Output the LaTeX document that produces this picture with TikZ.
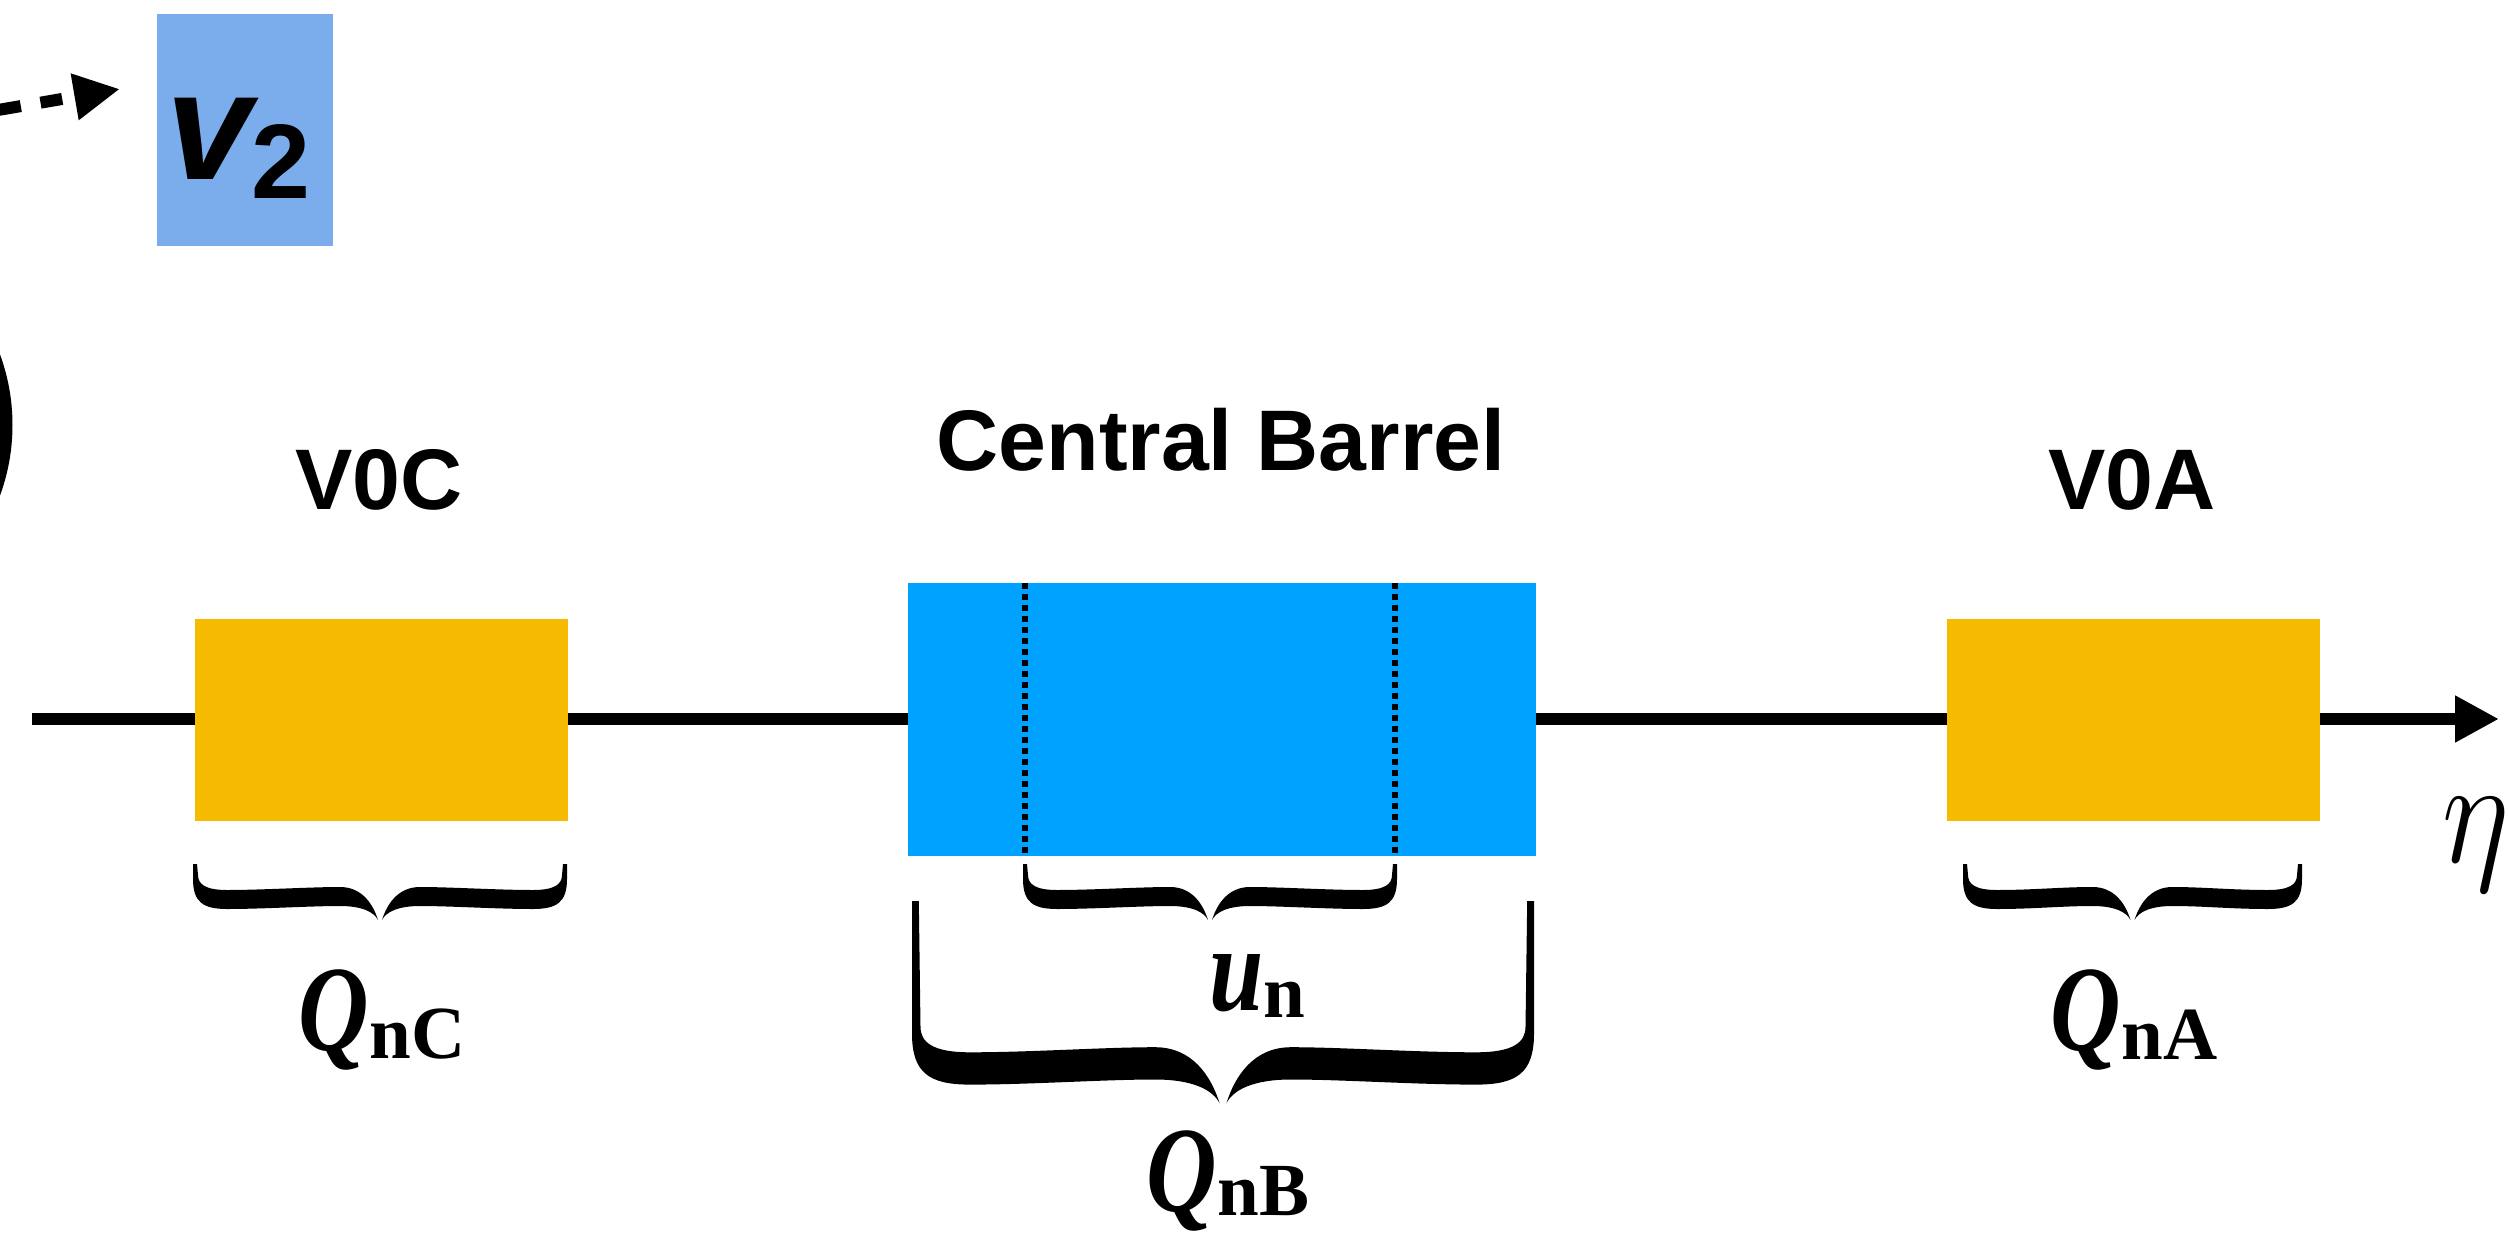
\RequirePackage{fix-cm}
\documentclass[tikz,border=0pt]{standalone}
\usepackage{fontspec}
\usepackage{graphicx}
\usetikzlibrary{arrows.meta,calc}
\newfontfamily\hsans{Liberation Sans}
\newfontfamily\tserif{Liberation Serif}
\definecolor{vtwoblue}{RGB}{123,173,237}
\definecolor{barrelblue}{RGB}{0,162,255}
\definecolor{vzerogold}{RGB}{246,187,0}

\tikzset{
  detector/.style={rectangle, inner sep=0pt, draw=none},
  sanslabel/.style={anchor=base, inner sep=0pt, font=\hsans\bfseries\fontsize{86}{90}\selectfont},
  qlabel/.style={anchor=base, inner sep=0pt, text depth=12pt, font=\tserif\bfseries\fontsize{122}{124}\selectfont},
}

% italic symbol with a lowered upright subscript
\newcommand\sublabel[3]{{\itshape\scalebox{0.8}[1]{#1}}\raisebox{-#3pt}{\fontsize{75}{76}\selectfont #2}}

% one half of a calligraphic brace: #1 half width, #2 straight arm length
\newcommand\bracehalf[2]{%
  \fill (0,0) -- (0,#2) .. controls (0,{#2+23}) and (10,{#2+30}) .. (34,{#2+30})
    .. controls (70,{#2+30}) and ({#1-70},{#2+27}) .. ({#1-40},{#2+27})
    .. controls ({#1-18},{#2+27}) and ({#1-6},{#2+33}) .. ({#1-2},{#2+41})
    .. controls ({#1-7},{#2+25}) and ({#1-18},{#2+8}) .. ({#1-40},{#2+8})
    .. controls ({#1-70},{#2+8}) and (70,{#2+11}) .. (34,{#2+11})
    .. controls (12,{#2+11}) and (5,{#2+5}) .. (5,{#2-4}) -- (4,0) -- cycle;}
% full brace: left x, right x, top y, scale, arm length
\newcommand\curlybrace[5]{%
  \pgfmathsetmacro\bracehw{(#2-#1)/(2*#4)}%
  \begin{scope}[shift={(#1,#3)}, scale=#4]\bracehalf{\bracehw}{#5}\end{scope}
  \begin{scope}[shift={(#2,#3)}, xscale=-#4, yscale=#4]\bracehalf{\bracehw}{#5}\end{scope}}

\begin{document}
\begin{tikzpicture}[x=1pt,y=-1pt]
\useasboundingbox (0,0) rectangle (2508,1233);
\fill[white] (0,0) rectangle (2508,1233);
\clip (0,0) rectangle (2508,1233);

% collision outline at the left edge
\draw[line width=13pt] (-192,425) circle[radius=198];

% flow coefficient box and dashed arrow
\node[detector, fill=vtwoblue, minimum width=176pt, minimum height=232pt] (v2) at (245,130) {};
\node[anchor=base west, inner sep=0pt, font=\hsans\bfseries\itshape\fontsize{154}{154}\selectfont] (v2text) at (166,180)
  {v\raisebox{-19pt}{\upshape\fontsize{106}{106}\selectfont 2}};
\coordinate (flowstart) at (-60,120);
\coordinate (flowtip) at (120,89);
\draw[line width=12pt, dash pattern=on 22pt off 20pt, dash phase=24pt,
      -{Triangle[length=46pt,width=44pt]}] (flowstart) -- (flowtip);

% pseudorapidity axis
\coordinate (axL) at (32,719);
\coordinate (axR) at (2499,719);
\draw[line width=12pt, -{Triangle[length=44pt,width=44pt]}] (axL) -- (axR);
\node[anchor=base west, inner sep=0pt, font=\fontsize{150}{150}\selectfont] (eta) at (2442,862) {\scalebox{0.86}[1]{$\eta$}};

% detectors
\node[detector, fill=vzerogold, minimum width=373pt, minimum height=202pt] (v0c) at (381.5,720) {};
\node[detector, fill=vzerogold, minimum width=373pt, minimum height=202pt] (v0a) at (2133.5,720) {};
\node[detector, fill=barrelblue, minimum width=628pt, minimum height=273pt] (barrel) at (1222,719.5) {};
\draw[line width=6pt, dash pattern=on 6pt off 5pt]
  ($(barrel.north west)+(117,0)$) -- ($(barrel.south west)+(117,0)$);
\draw[line width=6pt, dash pattern=on 6pt off 5pt]
  ($(barrel.north west)+(487,0)$) -- ($(barrel.south west)+(487,0)$);

% detector names
\node[sanslabel] (v0clbl) at (379,509) {V0C};
\node[sanslabel] (cblbl) at (1221,470) {Central Barrel};
\node[sanslabel] (v0albl) at (2132,509) {V0A};

% braces
\curlybrace{193}{567}{864}{1}{15}
\curlybrace{1023}{1397}{864}{1}{15}
\curlybrace{1963}{2302}{864}{1}{15}
\curlybrace{912}{1534}{901}{1.7}{78}

% vectors
\node[qlabel] (qnc) at (382,1050) {\sublabel{Q}{nC}{8}};
\node[qlabel] (qna) at (2134,1050) {\sublabel{Q}{nA}{9}};
\node[qlabel] (un) at (1257,1010) {\sublabel{u}{n}{7}};
\node[qlabel, text depth=8pt] (qnb) at (1228,1211) {\sublabel{Q}{nB}{4}};
\end{tikzpicture}
\end{document}
